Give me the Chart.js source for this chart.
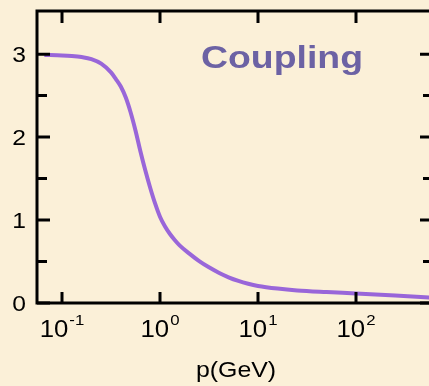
<!DOCTYPE html>
<html>
<head>
<meta charset="utf-8">
<script src="https://cdn.jsdelivr.net/npm/chart.js@4.4.1/dist/chart.umd.min.js"></script>
<style>
    html, body { margin: 0; padding: 0; background: #fbf0d8; overflow: hidden; }
    #wrap { width: 440px; height: 386px; }
</style>
</head>
<body>
<div id="wrap"><canvas id="chart" width="440" height="386"></canvas></div>
<script>
// --- datos ---
const momentum = [0.0661, 0.1, 0.1259, 0.1585, 0.1995, 0.2512, 0.3162, 0.3548, 0.3981, 0.4467,
    0.5012, 0.5623, 0.6310, 0.7079, 0.7943, 0.8913, 1.0, 1.122, 1.259, 1.413,
    1.585, 1.995, 2.512, 3.162, 3.981, 5.012, 6.310, 7.943, 10, 15.85,
    25.12, 50.12, 100, 251.2, 616.6];
const coupling = [2.99, 2.985, 2.978, 2.965, 2.94, 2.885, 2.78, 2.70, 2.61, 2.48,
    2.30, 2.08, 1.83, 1.60, 1.39, 1.20, 1.04, 0.925, 0.835, 0.76,
    0.695, 0.595, 0.505, 0.43, 0.365, 0.31, 0.266, 0.232, 0.206, 0.174,
    0.152, 0.132, 0.115, 0.09, 0.062];
const xTickValues = [0.1, 1, 10, 100];
const xTickExponents = ['-1', '0', '1', '2'];
const yTickValues = [0, 1, 2, 3];
const yMinorValues = [0.5, 1.5, 2.5];
const titleText = 'Coupling';
const xAxisTitle = 'p(GeV)';

const FONT = '"Liberation Sans", Arial, sans-serif';

// texto estirado horizontalmente (el original está algo ensanchado)
function drawStretched(ctx, text, x, y, font, sx, align) {
    ctx.save();
    ctx.font = font;
    ctx.textAlign = align;
    ctx.textBaseline = 'alphabetic';
    ctx.translate(x, y);
    ctx.scale(sx, 1);
    ctx.fillText(text, 0, 0);
    ctx.restore();
}

// --- marco, ticks hacia adentro y etiquetas ---
const framePlugin = {
    id: 'frame',
    afterDraw(chart) {
        const { ctx, chartArea: a, scales: { x, y } } = chart;
        ctx.save();
        ctx.strokeStyle = '#000';
        ctx.lineWidth = 3;
        ctx.lineCap = 'butt';
        ctx.strokeRect(a.left, a.top, a.right - a.left, a.bottom - a.top);

        ctx.beginPath();
        yTickValues.forEach(v => {
            const py = y.getPixelForValue(v);
            ctx.moveTo(a.left, py); ctx.lineTo(a.left + 13, py);
            ctx.moveTo(a.right, py); ctx.lineTo(a.right - 13, py);
        });
        yMinorValues.forEach(v => {
            const py = y.getPixelForValue(v);
            ctx.moveTo(a.left, py); ctx.lineTo(a.left + 10, py);
            ctx.moveTo(a.right, py); ctx.lineTo(a.right - 10, py);
        });
        xTickValues.forEach(v => {
            const px = Math.round(x.getPixelForValue(v));
            ctx.moveTo(px, a.top); ctx.lineTo(px, a.top + 12);
            ctx.moveTo(px, a.bottom); ctx.lineTo(px, a.bottom - 11);
        });
        ctx.stroke();

        ctx.fillStyle = '#000';
        yTickValues.forEach(v => {
            const py = y.getPixelForValue(v);
            drawStretched(ctx, String(v), 26, py + 8, '22px ' + FONT, 1.12, 'right');
        });

        xTickValues.forEach((v, i) => {
            const px = x.getPixelForValue(v);
            ctx.font = '23px ' + FONT;
            const wBase = ctx.measureText('10').width * 1.12;
            ctx.font = '15px ' + FONT;
            const wExp = ctx.measureText(xTickExponents[i]).width * 1.12;
            const start = px - (wBase + 1 + wExp) / 2;
            drawStretched(ctx, '10', start, 337, '23px ' + FONT, 1.12, 'left');
            drawStretched(ctx, xTickExponents[i], start + wBase + 1, 325, '15px ' + FONT, 1.12, 'left');
        });

        drawStretched(ctx, xAxisTitle, 236, 377, '22px ' + FONT, 1.13, 'center');

        ctx.fillStyle = '#6c62a4';
        ctx.font = 'bold 32px ' + FONT;
        const tw = ctx.measureText(titleText).width;
        drawStretched(ctx, titleText, 201, 68, 'bold 32px ' + FONT, 162 / tw, 'left');
        ctx.restore();
    }
};

const ctx = document.getElementById('chart').getContext('2d');
new Chart(ctx, {
    type: 'line',
    data: {
        datasets: [{
            data: momentum.map((p, i) => ({ x: p, y: coupling[i] })),
            borderColor: '#9966d9',
            borderWidth: 4,
            pointRadius: 0,
            fill: false,
            cubicInterpolationMode: 'monotone'
        }]
    },
    options: {
        responsive: false,
        animation: false,
        layout: { padding: { left: 37, right: 7, top: 11, bottom: 83 } },
        plugins: { legend: { display: false }, tooltip: { enabled: false } },
        scales: {
            x: { type: 'logarithmic', min: Math.pow(10, -1.255), max: Math.pow(10, 2.786), display: false },
            y: { type: 'linear', min: 0, max: 3.52, display: false }
        }
    },
    plugins: [framePlugin]
});
</script>
</body>
</html>
